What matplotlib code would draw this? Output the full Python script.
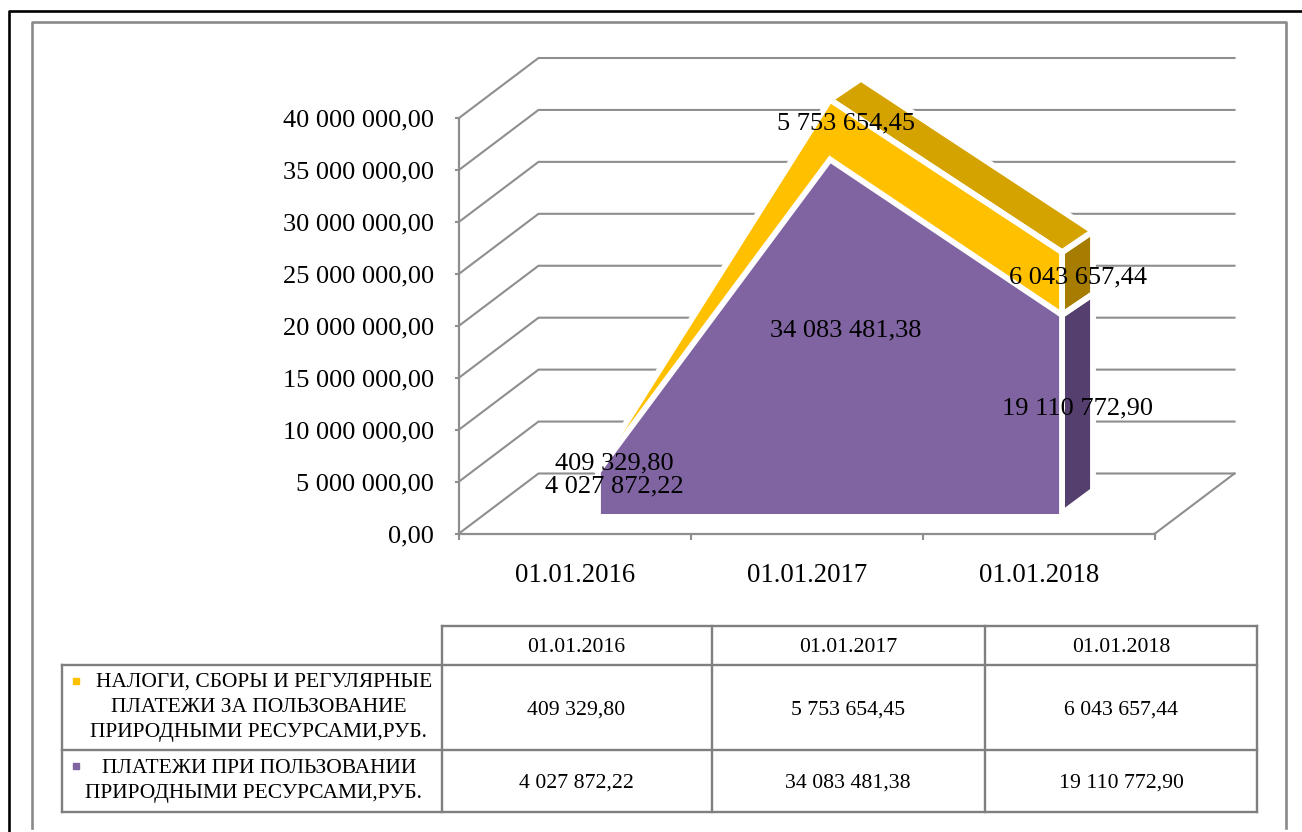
from matplotlib import pyplot as plt
import numpy as np

plt.rcParams['font.family'] = ['Liberation Serif', 'DejaVu Serif']

### data
dates = ['01.01.2016', '01.01.2017', '01.01.2018']
taxes = np.array([409329.80, 5753654.45, 6043657.44])
payments = np.array([4027872.22, 34083481.38, 19110772.90])
y_ticks = [0, 5e6, 10e6, 15e6, 20e6, 25e6, 30e6, 35e6, 40e6]
taxes_name = ['НАЛОГИ, СБОРЫ И РЕГУЛЯРНЫЕ', 'ПЛАТЕЖИ ЗА ПОЛЬЗОВАНИЕ', 'ПРИРОДНЫМИ РЕСУРСАМИ,РУБ.']
payments_name = ['ПЛАТЕЖИ ПРИ ПОЛЬЗОВАНИИ', 'ПРИРОДНЫМИ РЕСУРСАМИ,РУБ.']

gold, gold_top, gold_side = '#FFC000', '#D5A300', '#A67D00'
purple, purple_side = '#8064A2', '#553F6E'
grey = '#8E8E8E'


def money(v):
    return f"{v:,.2f}".replace(",", " ").replace(".", ",")


fig = plt.figure(figsize=(13.02, 8.32), dpi=100, facecolor='white')

# page axes in pixels, for the frames and the table under the chart
page = fig.add_axes([0, 0, 1, 1], zorder=0)
page.set_xlim(0, 1302)
page.set_ylim(832, 0)
page.axis('off')
page.plot([9, 9, 1302], [832, 11, 11], color='black', lw=1.9)
page.plot([32, 32, 1286, 1286], [828, 22, 22, 828], color='#8A8A8A', lw=1.9)

# table grid
tcol = '#7F7F7F'
for x in [442, 712, 985, 1257]:
    page.plot([x, x], [626, 812], color=tcol, lw=1.7)
page.plot([62, 62], [665, 812], color=tcol, lw=1.7)
page.plot([442, 1257], [626, 626], color=tcol, lw=1.7)
for y in [665, 750, 812]:
    page.plot([62, 1257], [y, y], color=tcol, lw=1.7)

col_x = [576, 848, 1121]
for x, d, t, p in zip(col_x, dates, taxes, payments):
    page.text(x, 647, d, ha='center', va='center', fontsize=15.7)
    page.text(x, 710, money(t), ha='center', va='center', fontsize=15.7)
    page.text(x, 783.5, money(p), ha='center', va='center', fontsize=15.7)

for y, x, s in zip([682.5, 707, 732.5], [264, 259, 258], taxes_name):
    page.text(x, y, s, ha='center', va='center', fontsize=15.5)
for y, x, s in zip([768.5, 793.5], [259, 253], payments_name):
    page.text(x, y, s, ha='center', va='center', fontsize=15.5)
page.plot([75.5], [681], 's', color=gold, ms=5)
page.plot([75.5], [766], 's', color=purple, ms=5)

# chart axes sit on the front plane of the 3d box
ax = fig.add_axes([459 / 1302, (832 - 533.5) / 832, 696 / 1302, 415.5 / 832], zorder=1)
ax.patch.set_visible(False)
ax.set_xlim(0, 3)
ax.set_ylim(0, 40e6)
ax_x = 3 / 696
ax_y = 40e6 / 415.5


def shift(x, v, dx, dy):
    # move a data point by some pixels
    return np.asarray(x) + dx * ax_x, np.asarray(v) + dy * ax_y


# walls and floor
right = 3
for v in y_ticks:
    xs, vs = shift(np.array([0, 0, right]), v, np.array([0, 79.5, 79.5]), np.array([0, 60, 60]))
    ax.plot(xs, vs, color=grey, lw=1.5, clip_on=False, zorder=1, solid_joinstyle='miter')
xs, vs = shift(np.array([right, right]), 0, np.array([0, 79.5]), np.array([0, 60]))
ax.plot(xs, vs, color=grey, lw=1.5, clip_on=False, zorder=1)

# stacked area, set in from the front plane
cats = np.array([0.5, 1.5, 2.5])
ax_off_x, ax_off_y = 23, 20
side_x, side_y = 31, 21
stack = payments + taxes
fx, base = shift(cats, 0 * cats, ax_off_x, ax_off_y)
_, top1 = shift(cats, payments, ax_off_x, ax_off_y)
_, top2 = shift(cats, stack, ax_off_x, ax_off_y)


def panel(px, pv, color, z):
    ax.fill(px, pv, color=color, lw=0, clip_on=False, zorder=z)
    ax.plot(np.append(px, px[0]), np.append(pv, pv[0]), color='white', lw=4.2, clip_on=False,
            zorder=z + 0.5, solid_joinstyle='miter')


def backed(x, v):
    return shift(x, v, side_x, side_y)


# right side panels
bx, bv = backed(fx[2], base[2])
bv = bv + 2 * ax_y
panel(np.array([fx[2], bx, bx, fx[2]]),
      np.array([base[2], bv, backed(fx[2], top1[2])[1], top1[2]]), purple_side, 2)
panel(np.array([fx[2], bx, bx, fx[2]]),
      np.array([top1[2], backed(fx[2], top1[2])[1], backed(fx[2], top2[2])[1], top2[2]]), gold_side, 2)

# top face of the gold band, peak to right end
b1 = backed(fx[1], top2[1])
b2 = backed(fx[2], top2[2])
panel(np.array([fx[1], b1[0], b2[0], fx[2]]), np.array([top2[1], b1[1], b2[1], top2[2]]), gold_top, 3)

# front faces
ax.fill_between(fx, top1, top2, color=gold, lw=0, clip_on=False, zorder=5)
ax.fill_between(fx, base, top1, color=purple, lw=0, clip_on=False, zorder=5)
ax.plot(np.r_[fx[0], fx, fx[-1]], np.r_[base[0], top2, base[-1]], color='white', lw=4.2,
        clip_on=False, zorder=6, solid_joinstyle='miter')
ax.plot(fx, top1, color='white', lw=4.2, clip_on=False, zorder=6, solid_joinstyle='miter')

# data labels
lx, _ = shift(cats, 0 * cats, 39, 0)
for i in range(3):
    _, ly = shift(0, payments[i] / 2, 0, ax_off_y + 6)
    ax.text(lx[i], ly, money(payments[i]), ha='center', va='center', fontsize=19, clip_on=False, zorder=8)
    _, ly = shift(0, payments[i] + taxes[i] / 2, 0, ax_off_y + 6)
    ax.text(lx[i], ly, money(taxes[i]), ha='center', va='center', fontsize=19, clip_on=False, zorder=8)

# axes
for s in ['top', 'right']:
    ax.spines[s].set_visible(False)
for s in ['left', 'bottom']:
    ax.spines[s].set_color(grey)
    ax.spines[s].set_linewidth(1.6)
    ax.spines[s].set_zorder(2)
ax.set_yticks(y_ticks)
ax.set_yticklabels([money(v) for v in y_ticks], fontsize=19)
ax.set_xticks([0, 1, 2, 3])
ax.set_xticklabels([])
ax.set_xticks(cats, dates, minor=True, fontsize=19.3)
ax.tick_params(axis='y', length=3, width=1.5, color=grey, pad=15)
ax.tick_params(axis='x', which='major', length=4, width=1.5, color=grey, direction='out')
ax.tick_params(axis='x', which='minor', length=0, pad=21)

fig.savefig('out.png', dpi=100)
